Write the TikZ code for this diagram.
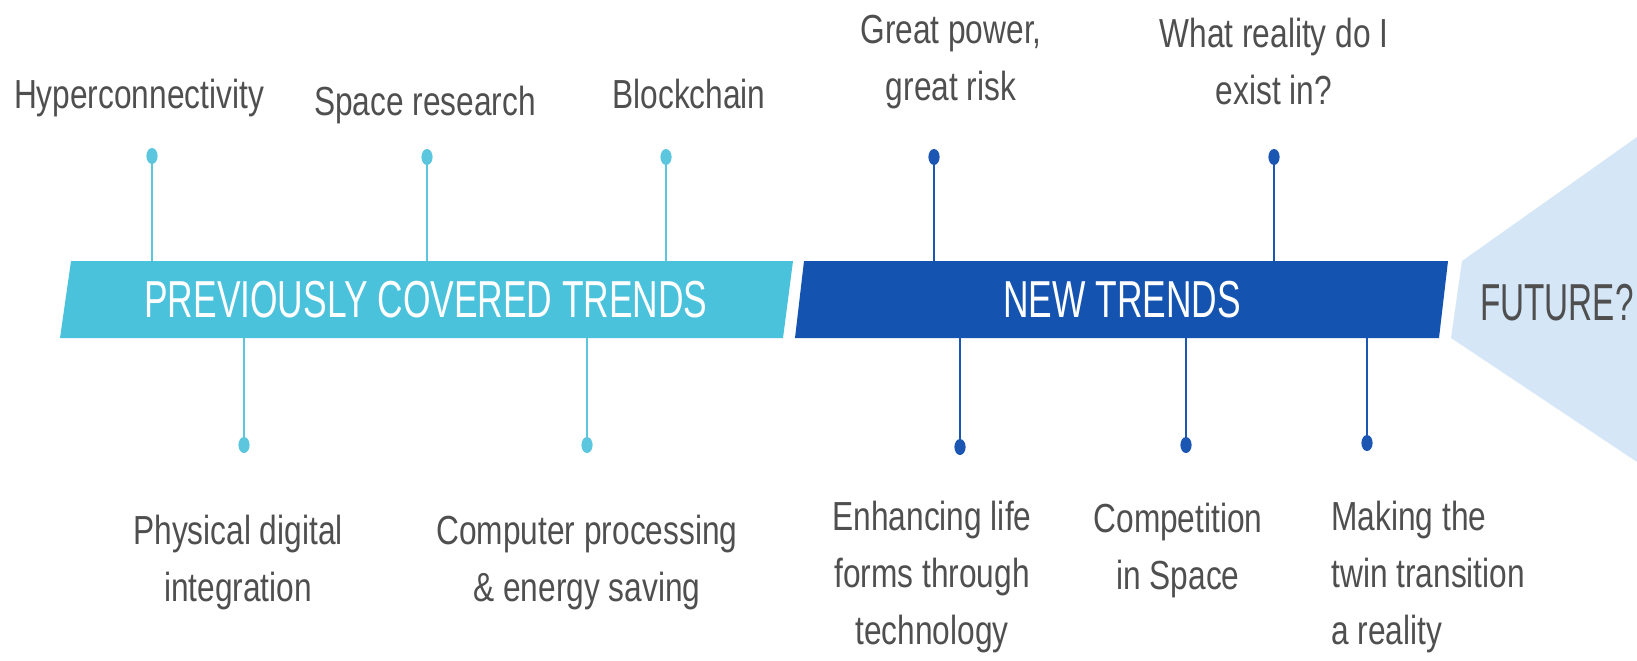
\documentclass[tikz,border=0pt]{standalone}
\usepackage{fontspec}
\usetikzlibrary{shapes.geometric}
\setmainfont{Liberation Sans}
\newfontfamily\lblfont[FakeStretch=0.78]{Liberation Sans}
\newfontfamily\barfont[FakeStretch=0.68]{Liberation Sans}
\newfontfamily\futfont[FakeStretch=0.64]{Liberation Sans}
\definecolor{lightbar}{HTML}{4AC2DC}
\definecolor{darkbar}{HTML}{1553B0}
\definecolor{futurefill}{HTML}{D5E7F7}
\definecolor{textgray}{HTML}{4F4F4F}
\definecolor{lightpin}{HTML}{5CC6DE}
\definecolor{darkpin}{HTML}{1A56B2}
\begin{document}
\begin{tikzpicture}[x=0.5pt,y=-0.5pt,
  lbl/.style={font=\lblfont\fontsize{20.3}{28.5}\selectfont, text=textgray, align=center, inner sep=0pt},
  lblleft/.style={lbl, align=left},
  bartext/.style={font=\barfont\fontsize{26}{30}\selectfont, text=white, inner sep=0pt},
  futtext/.style={font=\futfont\fontsize{26}{30}\selectfont, text=textgray, inner sep=0pt},
  ldot/.style={ellipse, fill=lightpin, inner sep=0pt, minimum width=5.6pt, minimum height=8pt},
  ddot/.style={ellipse, fill=darkpin, inner sep=0pt, minimum width=5.6pt, minimum height=8pt},
  lline/.style={draw=lightpin, line width=1.1pt},
  dline/.style={draw=darkpin, line width=1.1pt}]
\useasboundingbox (0,0) rectangle (1637,660);
% shapes
\fill[futurefill] (1462,261) -- (1637,137) -- (1637,462) -- (1451,338) -- cycle;
\fill[lightbar] (71,261) -- (793,261) -- (783,338) -- (60,338) -- cycle;
\fill[darkbar] (804,261) -- (1448,261) -- (1439,338) -- (795,338) -- cycle;
\node[bartext] (prev) at (426,300) {PREVIOUSLY COVERED TRENDS};
\node[bartext] (new) at (1122,300) {NEW TRENDS};
\node[futtext, anchor=east] (fut) at (1634,303) {FUTURE?};
% attach coordinates
\coordinate (a1) at (152,261); \coordinate (a2) at (427,261); \coordinate (a3) at (666,261);
\coordinate (a4) at (934,261); \coordinate (a5) at (1274,261);
\coordinate (b1) at (244,338); \coordinate (b2) at (587,338);
\coordinate (b3) at (960,338); \coordinate (b4) at (1186,338); \coordinate (b5) at (1367,338);
% dots
\node[ldot] (d1) at (152,156) {}; \node[ldot] (d2) at (427,157) {}; \node[ldot] (d3) at (666,157) {};
\node[ddot] (d4) at (934,157) {}; \node[ddot] (d5) at (1274,157) {};
\node[ldot] (e1) at (244,445) {}; \node[ldot] (e2) at (587,445) {};
\node[ddot] (e3) at (960,447) {}; \node[ddot] (e4) at (1186,445) {}; \node[ddot] (e5) at (1367,443) {};
% connectors
\draw[lline] (d1) -- (a1); \draw[lline] (d2) -- (a2); \draw[lline] (d3) -- (a3);
\draw[dline] (d4) -- (a4); \draw[dline] (d5) -- (a5);
\draw[lline] (b1) -- (e1); \draw[lline] (b2) -- (e2);
\draw[dline] (b3) -- (e3); \draw[dline] (b4) -- (e4); \draw[dline] (b5) -- (e5);
% top labels
\node[lbl, anchor=base] (l1) at (139,108) {Hyperconnectivity};
\node[lbl, anchor=base] (l2) at (425,115) {Space research};
\node[lbl, anchor=base] (l3) at (689,108) {Blockchain};
\node[lbl, anchor=north] (l4) at (951,15) {Great power,\\great risk};
\node[lbl, anchor=north] (l5) at (1274,18) {What reality do I\\exist in?};
% bottom labels
\node[lbl, anchor=north] (m1) at (238,515) {Physical digital\\integration};
\node[lbl, anchor=north] (m2) at (587,515) {Computer processing\\\& energy saving};
\node[lbl, anchor=north] (m3) at (932,501) {Enhancing life\\forms through\\technology};
\node[lbl, anchor=north] (m4) at (1178,503) {Competition\\in Space};
\node[lblleft, anchor=north west] (m5) at (1331,501) {Making the\\twin transition\\a reality};
\end{tikzpicture}
\end{document}
